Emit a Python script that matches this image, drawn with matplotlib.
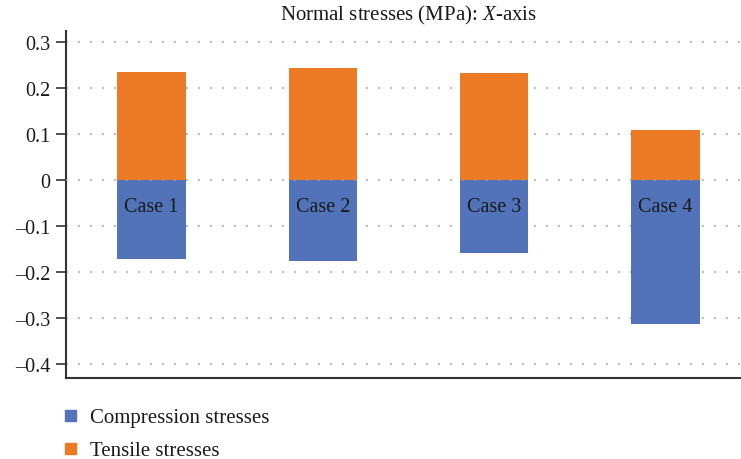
import matplotlib
matplotlib.use('Agg')

import matplotlib.pyplot as plt
from matplotlib.patches import Rectangle
from matplotlib.ticker import FuncFormatter

plt.rcParams['font.family'] = ['Liberation Serif', 'DejaVu Serif']
plt.rcParams['mathtext.fontset'] = 'custom'
plt.rcParams['mathtext.rm'] = 'Liberation Serif'
plt.rcParams['mathtext.it'] = 'Liberation Serif:italic'

# stresses per case (MPa)
cases = ['Case 1', 'Case 2', 'Case 3', 'Case 4']
compression = [-0.172, -0.176, -0.158, -0.313]
tensile = [0.235, 0.243, 0.233, 0.109]
y_ticks = [0.3, 0.2, 0.1, 0, -0.1, -0.2, -0.3, -0.4]
series_names = ['Compression stresses', 'Tensile stresses']

blue = '#5272BA'
orange = '#EC7A25'
text_color = '#1a1a1a'

W, H = 741, 460
fig = plt.figure(figsize=(W / 100, H / 100), dpi=100)
ax = fig.add_axes([66 / W, 1 - 379 / H, 685 / W, 347 / H])

x = list(range(len(cases)))
ax.bar(x, tensile, width=0.40, color=orange, zorder=2)
ax.bar(x, compression, width=0.40, color=blue, zorder=2)

# dotted gridlines, zero line drawn over the bars
dots = dict(color='#A0A0A0', linewidth=1.2, linestyle=(0, (1, 6.2)))
for v in y_ticks:
    ax.axhline(v, zorder=1 if v != 0 else 3, **dots)

for i, name in enumerate(cases):
    ax.text(i, -0.057, name, ha='center', va='center', fontsize=14.5,
            color=text_color, zorder=4)

ax.set_xlim(-0.5, 3.5)
ax.set_ylim(-0.430, 0.324)
ax.set_xticks([])
ax.set_yticks(y_ticks)
ax.yaxis.set_major_formatter(FuncFormatter(
    lambda v, p: '0' if abs(v) < 1e-9 else f'{v:.1f}'.replace('-', '\u2013')))
ax.tick_params(axis='y', direction='out', length=7, width=1.2,
               labelsize=14.5, labelcolor=text_color, color='#333333', pad=4)

for side in ['top', 'right']:
    ax.spines[side].set_visible(False)
for side in ['left', 'bottom']:
    ax.spines[side].set_color('#333333')
    ax.spines[side].set_linewidth(1.5)

ax.set_title('Normal stresses (MPa): $\\mathit{X}$-axis', fontsize=15,
             color=text_color, pad=8)

# legend below the plot: square swatch + label
for k, (name, col) in enumerate(zip(series_names, [blue, orange])):
    yc = 416 + 33 * k
    fig.patches.append(Rectangle((65 / W, 1 - (yc + 5.5) / H), 11 / W, 11 / H,
                                 transform=fig.transFigure, color=col))
    fig.text(90 / W, 1 - yc / H, name, ha='left', va='center_baseline',
             fontsize=15, color=text_color)

fig.savefig('out.png', dpi=100)
